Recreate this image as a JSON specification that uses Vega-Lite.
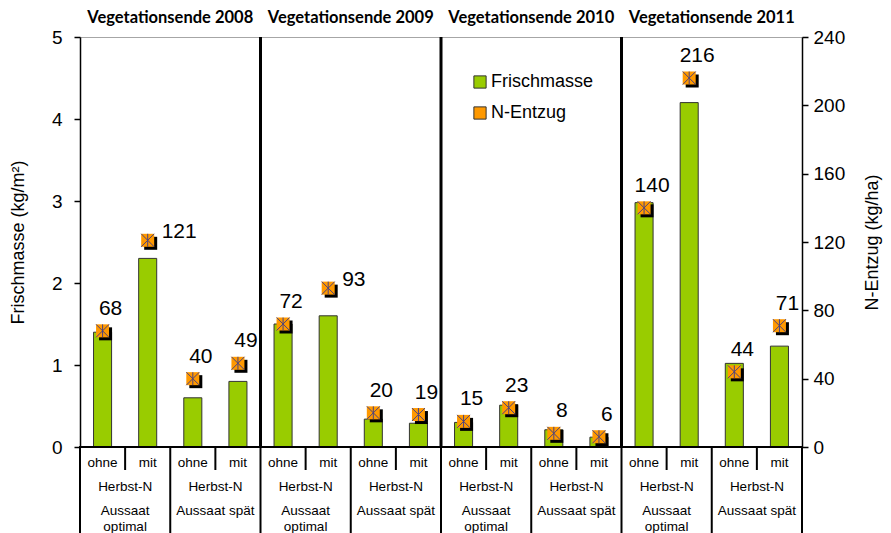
{
  "$schema": "https://vega.github.io/schema/vega-lite/v6.json",
  "padding": {"left": 8, "top": 0, "right": 5, "bottom": 0},
  "background": "white",
  "config": {"font": "Liberation Sans", "view": {"stroke": null}},
  "bounds": "flush",
  "spacing": 0,
  "data": {
    "values": [
      {"id": "2008-opt-ohne", "Jahr": "2008", "Aussaat": "optimal", "N": "ohne", "Frischmasse": 1.40, "N_Entzug": 68},
      {"id": "2008-opt-mit", "Jahr": "2008", "Aussaat": "optimal", "N": "mit", "Frischmasse": 2.30, "N_Entzug": 121},
      {"id": "2008-spaet-ohne", "Jahr": "2008", "Aussaat": "spät", "N": "ohne", "Frischmasse": 0.60, "N_Entzug": 40},
      {"id": "2008-spaet-mit", "Jahr": "2008", "Aussaat": "spät", "N": "mit", "Frischmasse": 0.80, "N_Entzug": 49},
      {"id": "2009-opt-ohne", "Jahr": "2009", "Aussaat": "optimal", "N": "ohne", "Frischmasse": 1.50, "N_Entzug": 72},
      {"id": "2009-opt-mit", "Jahr": "2009", "Aussaat": "optimal", "N": "mit", "Frischmasse": 1.60, "N_Entzug": 93},
      {"id": "2009-spaet-ohne", "Jahr": "2009", "Aussaat": "spät", "N": "ohne", "Frischmasse": 0.34, "N_Entzug": 20},
      {"id": "2009-spaet-mit", "Jahr": "2009", "Aussaat": "spät", "N": "mit", "Frischmasse": 0.29, "N_Entzug": 19},
      {"id": "2010-opt-ohne", "Jahr": "2010", "Aussaat": "optimal", "N": "ohne", "Frischmasse": 0.30, "N_Entzug": 15},
      {"id": "2010-opt-mit", "Jahr": "2010", "Aussaat": "optimal", "N": "mit", "Frischmasse": 0.51, "N_Entzug": 23},
      {"id": "2010-spaet-ohne", "Jahr": "2010", "Aussaat": "spät", "N": "ohne", "Frischmasse": 0.21, "N_Entzug": 8},
      {"id": "2010-spaet-mit", "Jahr": "2010", "Aussaat": "spät", "N": "mit", "Frischmasse": 0.12, "N_Entzug": 6},
      {"id": "2011-opt-ohne", "Jahr": "2011", "Aussaat": "optimal", "N": "ohne", "Frischmasse": 2.98, "N_Entzug": 140},
      {"id": "2011-opt-mit", "Jahr": "2011", "Aussaat": "optimal", "N": "mit", "Frischmasse": 4.20, "N_Entzug": 216},
      {"id": "2011-spaet-ohne", "Jahr": "2011", "Aussaat": "spät", "N": "ohne", "Frischmasse": 1.02, "N_Entzug": 44},
      {"id": "2011-spaet-mit", "Jahr": "2011", "Aussaat": "spät", "N": "mit", "Frischmasse": 1.23, "N_Entzug": 71}
    ]
  },
  "vconcat": [
    {
      "width": 722,
      "height": 37,
      "transform": [
        {"filter": "datum.Aussaat == 'optimal' && datum.N == 'mit'"},
        {"calculate": "'Vegetationsende ' + datum.Jahr", "as": "titel"}
      ],
      "mark": {"type": "text", "font": "Lato", "fontWeight": "bold", "fontSize": 16.5, "baseline": "middle", "color": "black", "dy": -1},
      "encoding": {
        "x": {"field": "id", "type": "nominal", "bandPosition": 1, "axis": null,
              "scale": {"type": "band", "paddingInner": 0, "paddingOuter": 0, "domain": ["2008-opt-ohne","2008-opt-mit","2008-spaet-ohne","2008-spaet-mit","2009-opt-ohne","2009-opt-mit","2009-spaet-ohne","2009-spaet-mit","2010-opt-ohne","2010-opt-mit","2010-spaet-ohne","2010-spaet-mit","2011-opt-ohne","2011-opt-mit","2011-spaet-ohne","2011-spaet-mit"]}},
        "text": {"field": "titel", "type": "nominal"}
      }
    },
    {
      "width": 722,
      "height": 410,
      "view": {"stroke": "#A6A6A6", "strokeWidth": 1},
      "layer": [
        {
          "encoding": {
            "x": {"field": "id", "type": "nominal", "axis": null,
                  "scale": {"type": "band", "paddingInner": 0, "paddingOuter": 0, "domain": ["2008-opt-ohne","2008-opt-mit","2008-spaet-ohne","2008-spaet-mit","2009-opt-ohne","2009-opt-mit","2009-spaet-ohne","2009-spaet-mit","2010-opt-ohne","2010-opt-mit","2010-spaet-ohne","2010-spaet-mit","2011-opt-ohne","2011-opt-mit","2011-spaet-ohne","2011-spaet-mit"]}}
          },
          "layer": [
            {
              "mark": {"type": "bar", "width": {"band": 0.4}, "stroke": "#333333", "strokeWidth": 1},
              "encoding": {
                "y": {"field": "Frischmasse", "type": "quantitative", "scale": {"domain": [0, 5]},
                      "axis": {"title": "Frischmasse (kg/m²)", "values": [0, 1, 2, 3, 4, 5], "grid": false,
                               "domainColor": "black", "domainWidth": 1.5, "tickColor": "black", "tickSize": 6, "tickWidth": 1.5,
                               "labelFontSize": 19, "labelColor": "black", "labelPadding": 12,
                               "titleFontSize": 18, "titleFontWeight": "normal", "titleColor": "black", "titlePadding": 24}},
                "color": {"datum": "Frischmasse", "type": "nominal",
                          "scale": {"domain": ["Frischmasse", "N-Entzug"], "range": ["#99CC00", "#FF9900"]},
                          "legend": {"title": null, "orient": "none", "legendX": 391, "legendY": 73,
                                     "symbolType": "square", "symbolSize": 150, "symbolStrokeColor": "#333333", "symbolStrokeWidth": 1,
                                     "labelFontSize": 18, "labelColor": "black", "rowPadding": 13, "labelOffset": 2}}
              }
            },
            {
              "transform": [{"filter": "datum.Aussaat == 'optimal' && datum.N == 'ohne' && datum.Jahr != '2008'"}],
              "mark": {"type": "rule", "color": "black", "strokeWidth": 3},
              "encoding": {
                "x": {"field": "id", "type": "nominal", "bandPosition": 0}
              }
            }
          ]
        },
        {
          "encoding": {
            "x": {"field": "id", "type": "nominal", "bandPosition": 0.5, "axis": null,
                  "scale": {"type": "band", "paddingInner": 0, "paddingOuter": 0, "domain": ["2008-opt-ohne","2008-opt-mit","2008-spaet-ohne","2008-spaet-mit","2009-opt-ohne","2009-opt-mit","2009-spaet-ohne","2009-spaet-mit","2010-opt-ohne","2010-opt-mit","2010-spaet-ohne","2010-spaet-mit","2011-opt-ohne","2011-opt-mit","2011-spaet-ohne","2011-spaet-mit"]}},
            "y": {"field": "N_Entzug", "type": "quantitative", "scale": {"domain": [0, 240]},
                  "axis": {"orient": "right", "title": "N-Entzug (kg/ha)", "values": [0, 40, 80, 120, 160, 200, 240], "grid": false,
                           "domainColor": "black", "domainWidth": 1.5, "tickColor": "black", "tickSize": 6, "tickWidth": 1.5,
                           "labelFontSize": 19, "labelColor": "black", "labelPadding": 5,
                           "titleFontSize": 18, "titleFontWeight": "normal", "titleColor": "black", "titlePadding": 37, "titleAngle": 270}}
          },
          "layer": [
            {
              "mark": {"type": "point", "shape": "square", "filled": true, "size": 169, "color": "black", "opacity": 1, "xOffset": 3, "yOffset": 3}
            },
            {
              "mark": {"type": "point", "shape": "square", "filled": true, "size": 169, "opacity": 1},
              "encoding": {"color": {"datum": "N-Entzug", "type": "nominal"}}
            },
            {
              "mark": {"type": "point", "shape": "M-1,-1L1,1M-1,1L1,-1M0,-1L0,1", "filled": false, "size": 169, "stroke": "#3A3A8C", "strokeWidth": 1, "opacity": 0.9}
            },
            {
              "transform": [{"filter": "datum.N_Entzug != 121 && datum.N_Entzug != 93"}],
              "mark": {"type": "text", "fontSize": 21, "color": "black", "dx": 8, "dy": -22, "baseline": "middle", "align": "center"},
              "encoding": {"text": {"field": "N_Entzug", "type": "quantitative"}}
            },
            {
              "transform": [{"filter": "datum.N_Entzug == 121 || datum.N_Entzug == 93"}],
              "mark": {"type": "text", "fontSize": 21, "color": "black", "dx": 14, "dy": -8, "baseline": "middle", "align": "left"},
              "encoding": {"text": {"field": "N_Entzug", "type": "quantitative"}}
            }
          ]
        }
      ],
      "resolve": {"scale": {"y": "independent"}}
    },
    {
      "width": 722,
      "height": 88,
      "view": {"stroke": "black", "strokeWidth": 2},
      "encoding": {
        "x": {"field": "id", "type": "nominal", "axis": null,
              "scale": {"type": "band", "paddingInner": 0, "paddingOuter": 0, "domain": ["2008-opt-ohne","2008-opt-mit","2008-spaet-ohne","2008-spaet-mit","2009-opt-ohne","2009-opt-mit","2009-spaet-ohne","2009-spaet-mit","2010-opt-ohne","2010-opt-mit","2010-spaet-ohne","2010-spaet-mit","2011-opt-ohne","2011-opt-mit","2011-spaet-ohne","2011-spaet-mit"]}}
      },
      "layer": [
        {
          "transform": [{"filter": "datum.N == 'mit'"}],
          "mark": {"type": "rule", "color": "black", "strokeWidth": 2},
          "encoding": {
            "x": {"field": "id", "type": "nominal", "bandPosition": 0},
            "y": {"datum": 0, "type": "quantitative", "scale": {"domain": [0, 4], "reverse": true}, "axis": null},
            "y2": {"datum": 1.045}
          }
        },
        {
          "transform": [{"filter": "datum.N == 'ohne'"}],
          "mark": {"type": "rule", "color": "black", "strokeWidth": 2},
          "encoding": {
            "x": {"field": "id", "type": "nominal", "bandPosition": 0}
          }
        },
        {
          "mark": {"type": "text", "fontSize": 13.5, "color": "black", "baseline": "middle"},
          "encoding": {
            "x": {"field": "id", "type": "nominal", "bandPosition": 0.5},
            "y": {"datum": 0.714, "type": "quantitative"},
            "text": {"field": "N", "type": "nominal"}
          }
        },
        {
          "transform": [{"filter": "datum.N == 'ohne'"}],
          "mark": {"type": "text", "fontSize": 13.5, "color": "black", "baseline": "middle"},
          "encoding": {
            "x": {"field": "id", "type": "nominal", "bandPosition": 1},
            "y": {"datum": 1.8, "type": "quantitative"},
            "text": {"value": "Herbst-N"}
          }
        },
        {
          "transform": [
            {"filter": "datum.N == 'ohne'"},
            {"calculate": "datum.Aussaat == 'optimal' ? ['Aussaat', 'optimal'] : 'Aussaat spät'", "as": "label"}
          ],
          "mark": {"type": "text", "fontSize": 13.5, "color": "black", "baseline": "top", "lineHeight": 15.5},
          "encoding": {
            "x": {"field": "id", "type": "nominal", "bandPosition": 1},
            "y": {"datum": 2.6, "type": "quantitative"},
            "text": {"field": "label", "type": "nominal"}
          }
        }
      ]
    }
  ]
}
